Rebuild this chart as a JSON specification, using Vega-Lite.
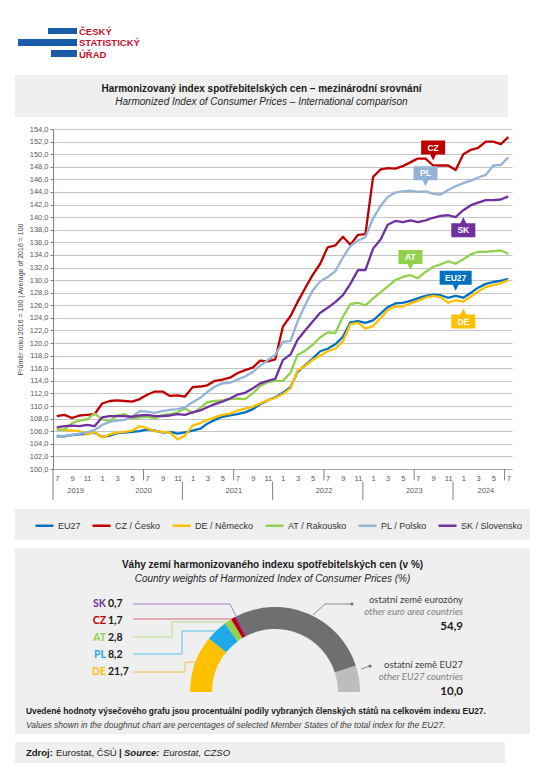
{
"$schema": "https://vega.github.io/schema/vega-lite/v6.json",
"background": "white",
"padding": {"left": 15, "top": 0, "right": 10, "bottom": 4},
"spacing": 8,
"config": {"view": {"stroke": null}, "font": "Liberation Sans", "locale": {"number": {"decimal": ",", "thousands": " ", "grouping": [3], "currency": ["", " Kč"]}}},
"resolve": {"scale": {"color": "independent", "shape": "independent"}, "legend": {"color": "independent"}},
"datasets": {
"cpi": [
{"d":"2019-07-01","EU27":105.2,"CZ":108.4,"DE":106.3,"AT":106.2,"PL":105.3,"SK":106.6},
{"d":"2019-08-01","EU27":105.2,"CZ":108.6,"DE":106.2,"AT":106.3,"PL":105.2,"SK":106.8},
{"d":"2019-09-01","EU27":105.4,"CZ":108.1,"DE":106.1,"AT":107.3,"PL":105.4,"SK":106.9},
{"d":"2019-10-01","EU27":105.5,"CZ":108.5,"DE":106.0,"AT":107.7,"PL":105.6,"SK":106.8},
{"d":"2019-11-01","EU27":105.6,"CZ":108.6,"DE":105.5,"AT":107.9,"PL":105.8,"SK":107.0},
{"d":"2019-12-01","EU27":105.8,"CZ":108.7,"DE":105.9,"AT":108.8,"PL":106.2,"SK":106.8},
{"d":"2020-01-01","EU27":105.1,"CZ":110.4,"DE":105.0,"AT":107.9,"PL":107.0,"SK":108.2},
{"d":"2020-02-01","EU27":105.3,"CZ":110.8,"DE":105.5,"AT":107.6,"PL":107.5,"SK":108.4},
{"d":"2020-03-01","EU27":105.7,"CZ":110.9,"DE":105.8,"AT":108.5,"PL":107.7,"SK":108.4},
{"d":"2020-04-01","EU27":105.8,"CZ":110.8,"DE":105.9,"AT":108.7,"PL":107.8,"SK":108.4},
{"d":"2020-05-01","EU27":105.9,"CZ":110.7,"DE":106.1,"AT":108.0,"PL":108.3,"SK":108.3},
{"d":"2020-06-01","EU27":106.0,"CZ":111.1,"DE":106.8,"AT":108.2,"PL":109.2,"SK":108.5},
{"d":"2020-07-01","EU27":106.3,"CZ":111.8,"DE":106.5,"AT":108.3,"PL":109.1,"SK":108.6},
{"d":"2020-08-01","EU27":106.1,"CZ":112.3,"DE":106.0,"AT":108.0,"PL":108.9,"SK":108.4},
{"d":"2020-09-01","EU27":105.8,"CZ":112.3,"DE":105.9,"AT":108.6,"PL":109.2,"SK":108.4},
{"d":"2020-10-01","EU27":105.9,"CZ":111.6,"DE":105.8,"AT":108.7,"PL":109.4,"SK":108.5},
{"d":"2020-11-01","EU27":105.6,"CZ":111.7,"DE":104.7,"AT":109.0,"PL":109.5,"SK":108.7},
{"d":"2020-12-01","EU27":105.8,"CZ":111.5,"DE":105.3,"AT":109.6,"PL":109.8,"SK":108.6},
{"d":"2021-01-01","EU27":106.1,"CZ":113.0,"DE":106.9,"AT":108.9,"PL":110.6,"SK":109.0},
{"d":"2021-02-01","EU27":106.4,"CZ":113.1,"DE":107.3,"AT":109.7,"PL":111.3,"SK":109.3},
{"d":"2021-03-01","EU27":107.2,"CZ":113.3,"DE":107.8,"AT":110.6,"PL":112.2,"SK":109.8},
{"d":"2021-04-01","EU27":107.8,"CZ":114.0,"DE":108.2,"AT":110.8,"PL":113.1,"SK":110.3},
{"d":"2021-05-01","EU27":108.3,"CZ":114.2,"DE":108.6,"AT":110.9,"PL":113.6,"SK":110.7},
{"d":"2021-06-01","EU27":108.5,"CZ":114.5,"DE":108.8,"AT":111.1,"PL":113.7,"SK":111.2},
{"d":"2021-07-01","EU27":108.7,"CZ":115.2,"DE":109.3,"AT":111.2,"PL":114.2,"SK":111.8},
{"d":"2021-08-01","EU27":109.0,"CZ":115.7,"DE":109.6,"AT":111.1,"PL":114.7,"SK":112.1},
{"d":"2021-09-01","EU27":109.5,"CZ":116.1,"DE":109.9,"AT":112.0,"PL":115.4,"SK":112.8},
{"d":"2021-10-01","EU27":110.3,"CZ":117.2,"DE":110.4,"AT":113.2,"PL":116.4,"SK":113.6},
{"d":"2021-11-01","EU27":110.9,"CZ":117.1,"DE":110.9,"AT":113.8,"PL":117.3,"SK":114.0},
{"d":"2021-12-01","EU27":111.4,"CZ":117.4,"DE":111.3,"AT":114.0,"PL":118.1,"SK":114.3},
{"d":"2022-01-01","EU27":112.1,"CZ":122.6,"DE":111.9,"AT":114.0,"PL":120.2,"SK":117.3},
{"d":"2022-02-01","EU27":113.0,"CZ":124.3,"DE":112.8,"AT":115.3,"PL":120.3,"SK":118.2},
{"d":"2022-03-01","EU27":115.4,"CZ":126.5,"DE":115.6,"AT":118.1,"PL":123.4,"SK":120.5},
{"d":"2022-04-01","EU27":116.5,"CZ":128.7,"DE":116.4,"AT":118.8,"PL":126.0,"SK":122.0},
{"d":"2022-05-01","EU27":117.5,"CZ":130.8,"DE":117.3,"AT":119.7,"PL":128.3,"SK":123.4},
{"d":"2022-06-01","EU27":118.7,"CZ":132.6,"DE":118.0,"AT":120.9,"PL":129.8,"SK":124.8},
{"d":"2022-07-01","EU27":119.1,"CZ":135.2,"DE":118.7,"AT":121.7,"PL":130.5,"SK":125.6},
{"d":"2022-08-01","EU27":119.8,"CZ":135.5,"DE":119.1,"AT":121.6,"PL":131.4,"SK":126.5},
{"d":"2022-09-01","EU27":121.0,"CZ":136.9,"DE":120.3,"AT":124.2,"PL":133.6,"SK":127.6},
{"d":"2022-10-01","EU27":123.3,"CZ":135.6,"DE":123.0,"AT":126.2,"PL":135.4,"SK":129.4},
{"d":"2022-11-01","EU27":123.5,"CZ":137.2,"DE":123.2,"AT":126.4,"PL":136.3,"SK":131.6},
{"d":"2022-12-01","EU27":123.2,"CZ":137.3,"DE":122.3,"AT":126.0,"PL":136.8,"SK":131.6},
{"d":"2023-01-01","EU27":123.6,"CZ":146.4,"DE":122.7,"AT":127.1,"PL":139.8,"SK":135.0},
{"d":"2023-02-01","EU27":124.7,"CZ":147.6,"DE":124.0,"AT":128.1,"PL":141.8,"SK":136.5},
{"d":"2023-03-01","EU27":125.7,"CZ":147.8,"DE":125.2,"AT":129.0,"PL":143.2,"SK":138.8},
{"d":"2023-04-01","EU27":126.3,"CZ":147.7,"DE":125.8,"AT":130.0,"PL":143.9,"SK":139.4},
{"d":"2023-05-01","EU27":126.4,"CZ":148.1,"DE":125.8,"AT":130.5,"PL":144.1,"SK":139.2},
{"d":"2023-06-01","EU27":126.7,"CZ":148.7,"DE":126.3,"AT":130.8,"PL":144.2,"SK":139.5},
{"d":"2023-07-01","EU27":127.1,"CZ":149.3,"DE":126.7,"AT":130.3,"PL":144.0,"SK":139.2},
{"d":"2023-08-01","EU27":127.5,"CZ":149.3,"DE":127.2,"AT":131.3,"PL":144.1,"SK":139.5},
{"d":"2023-09-01","EU27":127.7,"CZ":148.2,"DE":127.5,"AT":132.1,"PL":143.7,"SK":139.9},
{"d":"2023-10-01","EU27":127.6,"CZ":148.2,"DE":127.3,"AT":132.5,"PL":143.6,"SK":140.2},
{"d":"2023-11-01","EU27":127.2,"CZ":148.2,"DE":126.4,"AT":133.0,"PL":144.3,"SK":140.3},
{"d":"2023-12-01","EU27":127.5,"CZ":147.5,"DE":126.8,"AT":132.6,"PL":144.9,"SK":140.0},
{"d":"2024-01-01","EU27":127.2,"CZ":150.0,"DE":126.6,"AT":133.3,"PL":145.4,"SK":141.1},
{"d":"2024-02-01","EU27":128.0,"CZ":150.7,"DE":127.4,"AT":134.1,"PL":145.8,"SK":141.9},
{"d":"2024-03-01","EU27":128.8,"CZ":151.0,"DE":128.2,"AT":134.5,"PL":146.3,"SK":142.3},
{"d":"2024-04-01","EU27":129.4,"CZ":152.0,"DE":128.9,"AT":134.5,"PL":146.7,"SK":142.7},
{"d":"2024-05-01","EU27":129.7,"CZ":152.0,"DE":129.2,"AT":134.6,"PL":148.2,"SK":142.7},
{"d":"2024-06-01","EU27":129.9,"CZ":151.6,"DE":129.5,"AT":134.7,"PL":148.3,"SK":142.8},
{"d":"2024-07-01","EU27":130.2,"CZ":152.7,"DE":130.0,"AT":134.2,"PL":149.5,"SK":143.3}
],
"w": [
{"k":"DE","v":21.7,"o":1},
{"k":"PL","v":8.2,"o":2},
{"k":"AT","v":2.8,"o":3},
{"k":"CZ","v":1.7,"o":4},
{"k":"SK","v":0.7,"o":5},
{"k":"EA","v":54.9,"o":6,"cz":"ostatní země eurozóny","en":"other euro area countries"},
{"k":"EU","v":10.0,"o":7,"cz":"ostatní země EU27","en":"other EU27 countries"}
]
},
"vconcat": [
{
"width": 455, "height": 67,
"data": {"values": [{}]},
"layer": [
{"mark": {"type": "rect", "color": "#1b5ca8"}, "encoding": {"x": {"datum": 33, "scale": {"domain": [38, 493], "nice": false, "zero": false}, "axis": null}, "x2": {"datum": 62}, "y": {"datum": 28, "scale": {"domain": [0, 67], "reverse": true, "nice": false, "zero": false}, "axis": null}, "y2": {"datum": 34}}},
{"mark": {"type": "rect", "color": "#1b5ca8"}, "encoding": {"x": {"datum": 3, "axis": null}, "x2": {"datum": 62}, "y": {"datum": 39, "axis": null}, "y2": {"datum": 46}}},
{"mark": {"type": "rect", "color": "#1b5ca8"}, "encoding": {"x": {"datum": 36, "axis": null}, "x2": {"datum": 62}, "y": {"datum": 50, "axis": null}, "y2": {"datum": 57}}},
{"mark": {"type": "text", "text": "ČESKÝ", "align": "left", "baseline": "alphabetic", "fontSize": 9.5, "fontWeight": "bold", "color": "#c8102e"}, "encoding": {"x": {"datum": 64, "axis": null}, "y": {"datum": 34.5, "axis": null}}},
{"mark": {"type": "text", "text": "STATISTICKÝ", "align": "left", "baseline": "alphabetic", "fontSize": 9.5, "fontWeight": "bold", "color": "#c8102e"}, "encoding": {"x": {"datum": 64, "axis": null}, "y": {"datum": 46, "axis": null}}},
{"mark": {"type": "text", "text": "ÚŘAD", "align": "left", "baseline": "alphabetic", "fontSize": 9.5, "fontWeight": "bold", "color": "#c8102e"}, "encoding": {"x": {"datum": 64, "axis": null}, "y": {"datum": 57.5, "axis": null}}}
]
},
{
"width": 455, "height": 42,
"data": {"values": [{}]},
"layer": [
{"mark": {"type": "rect", "color": "#efefef"}, "encoding": {"x": {"datum": 0, "scale": {"domain": [38, 493], "nice": false, "zero": false}, "axis": null}, "x2": {"datum": 493}, "y": {"datum": 0, "scale": {"domain": [0, 42], "reverse": true, "nice": false, "zero": false}, "axis": null}, "y2": {"datum": 42}}},
{"mark": {"type": "text", "text": "Harmonizovaný index spotřebitelských cen – mezinárodní srovnání", "fontSize": 10, "fontWeight": "bold", "color": "#1a1a1a"}, "encoding": {"x": {"datum": 246.5, "axis": null}, "y": {"datum": 14, "axis": null}}},
{"mark": {"type": "text", "text": "Harmonized Index of Consumer Prices – International comparison", "fontSize": 10, "fontStyle": "italic", "color": "#262626"}, "encoding": {"x": {"datum": 246.5, "axis": null}, "y": {"datum": 26.5, "axis": null}}}
]
},
{
"width": 459, "height": 340,
"data": {"name": "cpi"},
"layer": [
{
"transform": [{"fold": ["EU27", "CZ", "DE", "AT", "PL", "SK"], "as": ["s", "v"]}],
"mark": {"type": "line", "strokeWidth": 2.3, "strokeJoin": "round"},
"encoding": {
"x": {"field": "d", "type": "temporal", "scale": {"type": "utc", "domain": [{"year": 2019, "month": 6, "date": 16, "utc": true}, {"year": 2024, "month": 7, "date": 16, "utc": true}]},
"axis": {"title": null, "grid": false, "ticks": false, "domainColor": "#a6a6a6", "labelExpr": "utcFormat(datum.value, '%-m')", "tickCount": {"interval": "month", "step": 2}, "labelFontSize": 7.5, "labelColor": "#595959", "labelPadding": 5, "labelOverlap": false, "labelFlush": false, "labelBound": false}},
"y": {"field": "v", "type": "quantitative", "scale": {"domain": [100, 154], "nice": false, "zero": false},
"axis": {"title": "Průměr roku 2016 = 100 | Average of 2016 = 100", "values": [100,102,104,106,108,110,112,114,116,118,120,122,124,126,128,130,132,134,136,138,140,142,144,146,148,150,152,154], "tickCount": 28, "format": ".1f", "grid": true, "gridColor": "#c4c4c4", "gridWidth": 1.2, "tickSize": 3, "tickColor": "#808080", "domainColor": "#808080", "labelFontSize": 7.5, "labelColor": "#595959", "labelPadding": 2, "labelOverlap": false, "titleFontSize": 7, "titleFontWeight": "normal", "titleColor": "#404040", "titlePadding": 6}},
"color": {"field": "s", "type": "nominal", "scale": {"domain": ["EU27", "CZ", "DE", "AT", "PL", "SK"], "range": ["#0070c0", "#c00000", "#ffc000", "#92d050", "#95b3d7", "#7030a0"]}, "legend": null}
}
},
{
"data": {"values": [{}]},
"mark": {"type": "rule", "color": "#808080"},
"encoding": {"x": {"datum": {"year": 2019, "month": 6, "date": 16, "utc": true}, "type": "temporal"}, "y": {"datum": 100}, "y2": {"datum": 95.1}}
},
{
"transform": [{"filter": "utcmonth(datum.d) == 5"}],
"mark": {"type": "rule", "color": "#808080"},
"encoding": {"x": {"field": "d", "timeUnit": "utcyearmonth", "type": "temporal", "bandPosition": 0.5}, "y": {"datum": 100}, "y2": {"datum": 98.2}}
},
{
"transform": [{"filter": "utcmonth(datum.d) == 10 && utcyear(datum.d) >= 2020"}],
"mark": {"type": "rule", "color": "#808080"},
"encoding": {"x": {"field": "d", "timeUnit": "utcyearmonth", "type": "temporal", "bandPosition": 0.65}, "y": {"datum": 98.0}, "y2": {"datum": 95.1}}
},
{
"transform": [{"timeUnit": "utcyear", "field": "d", "as": "yr"}, {"aggregate": [{"op": "mean", "field": "d", "as": "mid"}], "groupby": ["yr"]}],
"mark": {"type": "text", "fontSize": 7.5, "color": "#595959"},
"encoding": {"x": {"field": "mid", "type": "temporal"}, "y": {"datum": 96.5}, "text": {"field": "yr", "type": "temporal", "timeUnit": "utcyear"}}
},
{
"transform": [
{"fold": ["EU27", "CZ", "DE", "AT", "PL", "SK"], "as": ["s", "v"]},
{"filter": "(datum.s=='CZ'&&utcyear(datum.d)==2023&&utcmonth(datum.d)==8)||(datum.s=='PL'&&utcyear(datum.d)==2023&&utcmonth(datum.d)==7)||(datum.s=='AT'&&utcyear(datum.d)==2023&&utcmonth(datum.d)==5)||(datum.s=='EU27'&&utcyear(datum.d)==2023&&utcmonth(datum.d)==11)||(datum.s=='SK'&&utcyear(datum.d)==2024&&utcmonth(datum.d)==0)||(datum.s=='DE'&&utcyear(datum.d)==2024&&utcmonth(datum.d)==0)"}
],
"layer": [
{"mark": {"type": "point", "filled": true, "size": 4, "opacity": 1, "strokeWidth": 0},
"encoding": {"x": {"field": "d", "type": "temporal"}, "y": {"field": "v", "type": "quantitative"},
"color": {"field": "s", "type": "nominal", "legend": null},
"shape": {"field": "s", "type": "nominal", "legend": null, "scale": {"domain": ["EU27", "CZ", "DE", "AT", "PL", "SK"], "range": ["M-16,-25H16V-11H3L0,-5L-3,-11H-16Z", "M-12,-25H12V-11H3L0,-5L-3,-11H-12Z", "M-12,13H-3L0,7L3,13H12V27H-12Z", "M-12,-25H12V-11H3L0,-5L-3,-11H-12Z", "M-12,-25H12V-11H3L0,-5L-3,-11H-12Z", "M-12,13H-3L0,7L3,13H12V27H-12Z"]}}}},
{"transform": [{"filter": "datum.s=='CZ'||datum.s=='PL'||datum.s=='AT'||datum.s=='EU27'"}],
"mark": {"type": "text", "dy": -18, "color": "white", "fontWeight": "bold", "fontSize": 8.5},
"encoding": {"x": {"field": "d", "type": "temporal"}, "y": {"field": "v", "type": "quantitative"}, "text": {"field": "s"}}},
{"transform": [{"filter": "datum.s=='SK'||datum.s=='DE'"}],
"mark": {"type": "text", "dy": 20, "color": "white", "fontWeight": "bold", "fontSize": 8.5},
"encoding": {"x": {"field": "d", "type": "temporal"}, "y": {"field": "v", "type": "quantitative"}, "text": {"field": "s"}}}
]
}
]
},
{
"width": 477, "height": 31,
"layer": [
{"data": {"values": [{}]},
"mark": {"type": "rect", "color": "#efefef"},
"encoding": {"x": {"datum": 0, "scale": {"domain": [38, 515], "nice": false, "zero": false}, "axis": null}, "x2": {"datum": 515}, "y": {"datum": 0, "scale": {"domain": [0, 31], "reverse": true, "nice": false, "zero": false}, "axis": null}, "y2": {"datum": 31}}},
{"data": {"values": [{"n": "EU27"}, {"n": "CZ / Česko"}, {"n": "DE / Německo"}, {"n": "AT / Rakousko"}, {"n": "PL / Polsko"}, {"n": "SK / Slovensko"}]},
"mark": {"type": "point", "size": 0, "opacity": 0},
"encoding": {"color": {"field": "n", "type": "nominal",
"scale": {"domain": ["EU27", "CZ / Česko", "DE / Německo", "AT / Rakousko", "PL / Polsko", "SK / Slovensko"], "range": ["#0070c0", "#c00000", "#ffc000", "#92d050", "#95b3d7", "#7030a0"]},
"legend": {"orient": "none", "legendX": -19, "legendY": 6, "direction": "horizontal", "title": null, "padding": 0, "symbolType": "stroke", "symbolSize": 324, "symbolStrokeWidth": 2.5, "symbolOpacity": 1, "labelFontSize": 9, "labelColor": "#333333", "labelOffset": 3, "columnPadding": 6}}}}
]
},
{
"width": 477, "height": 186,
"resolve": {"scale": {"y": "independent"}},
"layer": [
{
"data": {"values": [{}]},
"layer": [
{"mark": {"type": "rect", "color": "#efefef"},
"encoding": {"x": {"datum": 0, "scale": {"domain": [38, 515], "nice": false, "zero": false}, "axis": null}, "x2": {"datum": 515}, "y": {"datum": 0, "scale": {"domain": [0, 186], "reverse": true, "nice": false, "zero": false}, "axis": null}, "y2": {"datum": 186}}},
{"mark": {"type": "text", "text": "Váhy zemí harmonizovaného indexu spotřebitelských cen (v %)", "fontSize": 10, "fontWeight": "bold", "color": "#1a1a1a"},
"encoding": {"x": {"datum": 257.5, "axis": null}, "y": {"datum": 17, "axis": null}}},
{"mark": {"type": "text", "text": "Country weights of Harmonized Index of Consumer Prices (%)", "fontSize": 10, "fontStyle": "italic", "color": "#262626"},
"encoding": {"x": {"datum": 257.5, "axis": null}, "y": {"datum": 31, "axis": null}}},
{"data": {"name": "w"},
"mark": {"type": "arc", "outerRadius": 85, "innerRadius": 63},
"encoding": {"theta": {"field": "v", "type": "quantitative", "stack": true, "scale": {"domain": [0, 100], "range": [-1.5708, 1.5708], "nice": false}},
"order": {"field": "o", "type": "quantitative"},
"color": {"field": "k", "type": "nominal", "scale": {"domain": ["DE", "PL", "AT", "CZ", "SK", "EA", "EU"], "range": ["#ffc000", "#1eaae7", "#92d050", "#c00000", "#7030a0", "#6f6f6f", "#bdbdbd"]}, "legend": null},
"x": {"datum": 260, "axis": null}, "y": {"datum": 144, "axis": null}}},
{"mark": {"type": "rule", "color": "#a57fc6"}, "encoding": {"x": {"datum": 118, "axis": null}, "x2": {"datum": 215}, "y": {"datum": 56, "axis": null}, "y2": {"datum": 56}}},
{"mark": {"type": "rule", "color": "#a57fc6"}, "encoding": {"x": {"datum": 215, "axis": null}, "x2": {"datum": 221}, "y": {"datum": 56, "axis": null}, "y2": {"datum": 68}}},
{"mark": {"type": "rule", "color": "#d66a72"}, "encoding": {"x": {"datum": 118, "axis": null}, "x2": {"datum": 217}, "y": {"datum": 71, "axis": null}, "y2": {"datum": 71}}},
{"mark": {"type": "rule", "color": "#b5dc8c"}, "encoding": {"x": {"datum": 118, "axis": null}, "x2": {"datum": 157}, "y": {"datum": 89, "axis": null}, "y2": {"datum": 89}}},
{"mark": {"type": "rule", "color": "#b5dc8c"}, "encoding": {"x": {"datum": 157, "axis": null}, "x2": {"datum": 157}, "y": {"datum": 89, "axis": null}, "y2": {"datum": 74}}},
{"mark": {"type": "rule", "color": "#b5dc8c"}, "encoding": {"x": {"datum": 157, "axis": null}, "x2": {"datum": 212}, "y": {"datum": 74, "axis": null}, "y2": {"datum": 74}}},
{"mark": {"type": "rule", "color": "#53c0ec"}, "encoding": {"x": {"datum": 118, "axis": null}, "x2": {"datum": 167}, "y": {"datum": 106, "axis": null}, "y2": {"datum": 106}}},
{"mark": {"type": "rule", "color": "#53c0ec"}, "encoding": {"x": {"datum": 167, "axis": null}, "x2": {"datum": 167}, "y": {"datum": 106, "axis": null}, "y2": {"datum": 83}}},
{"mark": {"type": "rule", "color": "#53c0ec"}, "encoding": {"x": {"datum": 167, "axis": null}, "x2": {"datum": 201}, "y": {"datum": 83, "axis": null}, "y2": {"datum": 83}}},
{"mark": {"type": "rule", "color": "#f5c04a"}, "encoding": {"x": {"datum": 118, "axis": null}, "x2": {"datum": 170}, "y": {"datum": 124, "axis": null}, "y2": {"datum": 124}}},
{"mark": {"type": "rule", "color": "#f5c04a"}, "encoding": {"x": {"datum": 170, "axis": null}, "x2": {"datum": 170}, "y": {"datum": 124, "axis": null}, "y2": {"datum": 114}}},
{"mark": {"type": "rule", "color": "#f5c04a"}, "encoding": {"x": {"datum": 170, "axis": null}, "x2": {"datum": 180}, "y": {"datum": 114, "axis": null}, "y2": {"datum": 114}}},
{"mark": {"type": "rule", "color": "#8c8c8c"}, "encoding": {"x": {"datum": 298, "axis": null}, "x2": {"datum": 310}, "y": {"datum": 67, "axis": null}, "y2": {"datum": 56}}},
{"mark": {"type": "rule", "color": "#8c8c8c"}, "encoding": {"x": {"datum": 310, "axis": null}, "x2": {"datum": 337}, "y": {"datum": 56, "axis": null}, "y2": {"datum": 56}}},
{"mark": {"type": "rule", "color": "#8c8c8c"}, "encoding": {"x": {"datum": 346, "axis": null}, "x2": {"datum": 355}, "y": {"datum": 121, "axis": null}, "y2": {"datum": 118}}},
{"mark": {"type": "point", "filled": true, "size": 10, "opacity": 1, "color": "#6f6f6f"}, "encoding": {"x": {"datum": 337, "axis": null}, "y": {"datum": 56, "axis": null}}},
{"mark": {"type": "point", "filled": true, "size": 10, "opacity": 1, "color": "#6f6f6f"}, "encoding": {"x": {"datum": 355, "axis": null}, "y": {"datum": 118, "axis": null}}},
{"mark": {"type": "text", "text": "Uvedené hodnoty výsečového grafu jsou procentuální podíly vybraných členských států na celkovém indexu EU27.", "align": "left", "fontSize": 8.4, "fontWeight": "bold", "color": "#1a1a1a"},
"encoding": {"x": {"datum": 11, "axis": null}, "y": {"datum": 163, "axis": null}}},
{"mark": {"type": "text", "text": "Values shown in the doughnut chart are percentages of selected Member States of the total index for the EU27.", "align": "left", "fontSize": 8.5, "fontStyle": "italic", "color": "#404040"},
"encoding": {"x": {"datum": 11, "axis": null}, "y": {"datum": 177, "axis": null}}}
]
},
{
"data": {"name": "w"},
"transform": [{"filter": "datum.o <= 5"}],
"layer": [
{"mark": {"type": "text", "align": "right", "font": "Lato", "fontSize": 10.5, "fontWeight": "bold"},
"encoding": {"x": {"datum": 91, "axis": null}, "y": {"field": "k", "type": "nominal", "sort": ["SK", "CZ", "AT", "PL", "DE"], "scale": {"type": "point", "range": [56, 124], "padding": 0}, "axis": null}, "text": {"field": "k"}, "color": {"field": "k", "type": "nominal", "legend": null}}},
{"mark": {"type": "text", "align": "left", "font": "Lato", "fontSize": 10.5, "fontWeight": "bold", "color": "#1a1a1a"},
"encoding": {"x": {"datum": 93, "axis": null}, "y": {"field": "k", "type": "nominal", "sort": ["SK", "CZ", "AT", "PL", "DE"], "axis": null}, "text": {"field": "v", "type": "quantitative", "format": ".1f"}}}
]
},
{
"data": {"name": "w"},
"transform": [{"filter": "datum.o > 5"}],
"layer": [
{"mark": {"type": "text", "align": "right", "font": "Lato", "fontSize": 9.5, "color": "#404040"},
"encoding": {"x": {"datum": 448, "axis": null}, "y": {"field": "k", "type": "nominal", "sort": ["EA", "EU"], "scale": {"type": "point", "range": [52, 117], "padding": 0}, "axis": null}, "text": {"field": "cz"}}},
{"mark": {"type": "text", "align": "right", "font": "Lato", "fontSize": 9.5, "fontStyle": "italic", "color": "#808080", "dy": 12},
"encoding": {"x": {"datum": 448, "axis": null}, "y": {"field": "k", "type": "nominal", "sort": ["EA", "EU"], "axis": null}, "text": {"field": "en"}}},
{"mark": {"type": "text", "align": "right", "font": "Lato", "fontSize": 11.5, "fontWeight": "bold", "color": "#1a1a1a", "dy": 26.5},
"encoding": {"x": {"datum": 448, "axis": null}, "y": {"field": "k", "type": "nominal", "sort": ["EA", "EU"], "axis": null}, "text": {"field": "v", "type": "quantitative", "format": ".1f"}}}
]
}
]
},
{
"width": 452, "height": 21,
"data": {"values": [{}]},
"layer": [
{"mark": {"type": "rect", "color": "#efefef"}, "encoding": {"x": {"datum": 0, "scale": {"domain": [38, 490], "nice": false, "zero": false}, "axis": null}, "x2": {"datum": 490}, "y": {"datum": 0, "scale": {"domain": [0, 21], "reverse": true, "nice": false, "zero": false}, "axis": null}, "y2": {"datum": 21}}},
{"mark": {"type": "text", "text": "Zdroj:", "align": "left", "fontSize": 9.5, "fontWeight": "bold", "color": "#1a1a1a"}, "encoding": {"x": {"datum": 11, "axis": null}, "y": {"datum": 11, "axis": null}}},
{"mark": {"type": "text", "text": "Eurostat, ČSÚ", "align": "left", "fontSize": 9.5, "color": "#1a1a1a"}, "encoding": {"x": {"datum": 41, "axis": null}, "y": {"datum": 11, "axis": null}}},
{"mark": {"type": "text", "text": "|", "align": "left", "fontSize": 9.5, "fontWeight": "bold", "color": "#1a1a1a"}, "encoding": {"x": {"datum": 104, "axis": null}, "y": {"datum": 11, "axis": null}}},
{"mark": {"type": "text", "text": "Source:", "align": "left", "fontSize": 9.5, "fontWeight": "bold", "fontStyle": "italic", "color": "#1a1a1a"}, "encoding": {"x": {"datum": 109, "axis": null}, "y": {"datum": 11, "axis": null}}},
{"mark": {"type": "text", "text": "Eurostat, CZSO", "align": "left", "fontSize": 9.5, "fontStyle": "italic", "color": "#1a1a1a"}, "encoding": {"x": {"datum": 148, "axis": null}, "y": {"datum": 11, "axis": null}}}
]
}
]
}
